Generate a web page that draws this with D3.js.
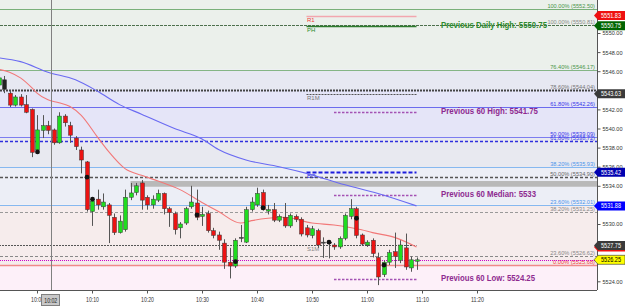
<!DOCTYPE html>
<html>
<head>
<meta charset="utf-8">
<script src="https://cdn.jsdelivr.net/npm/d3@7"></script>
<style>
body { margin: 0; background: #fff; font-family: "Liberation Sans", Arial, sans-serif; }
</style>
</head>
<body>
<div class="chart"></div>
<script>
// DATA ----------------------------------------------

const barTimes = ['09:53','09:54','09:55','09:56','09:57','09:58','09:59','10:00','10:01','10:02',
	'10:03','10:04','10:05','10:06','10:07','10:08','10:09','10:10','10:11','10:12',
	'10:13','10:14','10:15','10:16','10:17','10:18','10:19','10:20','10:21','10:22',
	'10:23','10:24','10:25','10:26','10:27','10:28','10:29','10:30','10:31','10:32',
	'10:33','10:34','10:35','10:36','10:37','10:38','10:39','10:40','10:41','10:42',
	'10:43','10:44','10:45','10:46','10:47','10:48','10:49','10:50','10:51','10:52',
	'10:53','10:54','10:55','10:56','10:57','10:58','10:59','11:00','11:01','11:02',
	'11:03','11:04','11:05','11:06','11:07','11:08','11:09'];
const opens = [5544.55,5545.1,5543.7,5542.45,5543.3,5542.5,5542.0,5537.75,5539.8,5540.3,
	5539.85,5538.5,5541.3,5540.3,5539.0,5537.75,5536.5,5531.3,5532.6,5531.8,
	5532.0,5530.7,5529.1,5529.4,5532.8,5533.3,5534.3,5532.8,5532.0,5532.5,
	5533.2,5531.6,5531.1,5529.6,5530.1,5531.8,5532.2,5530.8,5531.1,5529.3,
	5528.85,5528.0,5526.0,5525.6,5528.6,5528.1,5531.5,5532.0,5533.3,5531.35,
	5531.5,5530.4,5530.7,5529.8,5530.8,5530.5,5529.6,5528.8,5529.3,5528.1,
	5528.1,5527.8,5527.6,5528.5,5530.8,5531.6,5528.85,5527.8,5528.3,5526.5,
	5524.7,5526.0,5527.1,5526.2,5527.5,5525.4,5526.1];
const highs = [5545.6,5545.5,5544.0,5543.5,5543.6,5543.5,5542.1,5541.4,5541.4,5540.8,
	5540.0,5541.7,5541.5,5540.7,5539.2,5538.1,5536.6,5532.7,5533.6,5533.2,
	5532.2,5531.1,5530.9,5533.6,5534.3,5534.3,5534.6,5533.0,5533.0,5533.6,
	5533.3,5531.8,5531.3,5530.2,5531.8,5534.0,5533.6,5531.8,5531.4,5529.6,
	5529.2,5528.4,5527.5,5528.5,5529.9,5531.8,5532.8,5533.8,5533.6,5532.0,
	5532.2,5531.0,5532.2,5531.1,5531.0,5530.7,5529.9,5529.8,5529.5,5528.6,
	5528.2,5528.0,5528.7,5531.1,5532.6,5531.8,5529.0,5528.3,5528.5,5527.0,
	5526.2,5527.3,5529.1,5528.3,5529.0,5526.6,5526.5];
const lows = [5544.3,5543.7,5542.25,5542.3,5542.3,5541.6,5537.0,5537.4,5539.0,5539.4,
	5538.3,5538.4,5540.2,5538.5,5537.75,5535.3,5531.3,5529.8,5531.5,5531.5,
	5528.0,5528.85,5529.0,5529.2,5532.5,5533.0,5531.5,5531.5,5531.6,5532.3,
	5531.0,5529.7,5528.9,5528.5,5529.9,5531.6,5530.4,5529.8,5529.1,5528.5,
	5527.3,5525.3,5524.3,5525.4,5528.1,5528.0,5531.3,5531.8,5531.4,5531.0,
	5530.2,5530.2,5529.6,5529.6,5530.2,5528.7,5528.6,5528.5,5527.5,5526.45,
	5526.4,5527.3,5527.4,5528.3,5530.5,5528.5,5527.7,5527.6,5526.5,5523.6,
	5524.45,5525.7,5525.4,5525.9,5525.2,5525.0,5525.2];
const closes = [5545.3,5544.1,5542.45,5543.3,5542.45,5541.7,5537.5,5539.85,5540.3,5539.8,
	5538.5,5541.3,5540.6,5539.3,5538.1,5536.7,5531.5,5532.4,5532.0,5532.3,
	5530.9,5529.1,5530.3,5532.8,5533.25,5534.0,5532.5,5532.0,5532.6,5533.2,
	5531.6,5531.2,5529.4,5530.0,5531.6,5532.3,5530.7,5531.0,5529.3,5528.8,
	5528.3,5526.0,5525.6,5528.3,5528.6,5531.5,5532.3,5533.2,5531.5,5531.5,
	5530.4,5530.8,5529.8,5530.9,5530.5,5528.95,5528.85,5529.5,5527.8,5528.1,
	5528.1,5527.6,5528.5,5530.9,5531.6,5528.8,5527.9,5528.1,5526.9,5524.45,
	5526.0,5527.0,5526.6,5527.8,5525.5,5526.25,5526.25];
const darkBars = ['09:54'];

const dotTimes = ['10:00','10:09','10:10','10:29','10:36','10:41','10:53','10:58','11:03'];
const dotPrices = [5537.55,5534.9,5532.6,5530.95,5526.05,5531.7,5528.1,5530.6,5525.7];

const maFastTimes = ['09:53','09:55','09:57','09:59','10:00','10:02','10:04','10:06','10:08','10:11','10:13','10:16',
	'10:19','10:22','10:26','10:30','10:33','10:37','10:39','10:42','10:45','10:50','10:54','10:59','11:01','11:05','11:09'];
const maFastValues = [5546.2,5545.9,5545.3,5544.3,5543.7,5543.0,5542.7,5542.3,5541.4,5539.1,5537.6,5535.8,
	5535.1,5534.5,5533.6,5532.25,5531.3,5530.1,5530.35,5530.6,5530.7,5530.1,5529.9,5529.4,5529.1,5528.6,5527.6];
const maSlowTimes = ['09:53','09:57','10:02','10:07','10:11','10:15','10:19','10:25','10:30','10:33','10:38','10:44','10:49','10:56','11:02','11:09'];
const maSlowValues = [5547.4,5547.0,5545.9,5545.1,5543.9,5542.5,5541.5,5540.0,5538.9,5537.8,5536.7,5536.0,5535.3,5534.1,5533.2,5531.9];

// fibonacci levels (full width)
const fibPrices = [5552.50,5550.81,5546.17,5544.04,5542.26,5539.09,5538.72,5535.93,5534.90,5532.01,5531.25,5526.62,5525.68];
const fibNames = ['100.00%','100.00%','76.40%','78.60%','61.80%','50.00%','61.80%','38.20%','50.00%','23.60%','38.20%','23.60%','0.00%'];

// background zones
const zoneTops = [5560, 5546.17, 5544.04, 5539.09, 5535.93, 5532.01, 5525.68];
const zoneBottoms = [5546.17, 5544.04, 5539.09, 5535.93, 5532.01, 5525.68, 5510];

// pivot / short levels
const levelNames = ['R1','PH','R1M','S1M','BO'];
const levelPrices = [5551.83,5550.75,5543.63,5527.75,5535.42];
const levelStart = ['10:49','10:49','10:49','09:40','10:49'];
const levelEnd = ['11:09','11:09','11:09','11:09','11:09'];

const prevNames = ['Previous Daily High: 5550.75','Previous 60 High: 5541.75','Previous 60 Median: 5533','Previous 60 Low: 5524.25'];
const prevPrices = [5550.75,5541.75,5533,5524.25];

const grayZone = {from: '10:17', top: 5534.5, bottom: 5533.9};
const lastPrice = 5526.25;
const tagPrices = [5551.83,5550.75,5543.63,5535.42,5531.88,5527.6,5527.75,5526.25];
const tagShown = [true,true,true,true,true,false,true,true];

// axis labels hidden behind the price tags are left out
const priceTicks = [5524,5530,5534,5536,5538,5540,5542,5546,5548,5550];
const timeTicks = ['10:00','10:10','10:20','10:30','10:40','10:50','11:00','11:10','11:20'];
const cursorTime = '10:02:30';
const cursorLabel = '10:02';

// STYLES --------------------------------------------

const zoneColors = ['#ebf0eb','#e7e8f2','#e5e5f8','#e8e9f0','#eceef6','#f6ecec','#fdf0f9'];
const fibStyles = [
	{c: '#79b079', w: 1.2, d: null, t: '#4a954a'},
	{c: '#4d704d', w: 1.2, d: '3,1', t: '#8a8a8a'},
	{c: '#85b585', w: 1.2, d: null, t: '#4a954a'},
	{c: '#444', w: 2, d: '2,1', t: '#777'},
	{c: '#6c6cee', w: 1.2, d: null, t: '#3535e8'},
	{c: '#7c7cf0', w: 1.2, d: null, t: '#3535e8'},
	{c: '#3030dd', w: 1.5, d: '3,2', t: '#3535e8'},
	{c: '#86b8f0', w: 1.2, d: null, t: '#4a94ec'},
	{c: '#555', w: 1.5, d: '3,2', t: '#666'},
	{c: '#86b8f0', w: 1.2, d: null, t: '#4a94ec'},
	{c: '#999', w: 1.2, d: '3,2', t: '#888'},
	{c: '#888', w: 1.2, d: '3,2', t: '#888'},
	{c: '#f08a8a', w: 1.5, d: null, t: '#f04040'}
];
const levelStyles = [
	{c: '#f2a6ae', w: 1.5, d: null, t: '#f03a3a'},
	{c: '#2d7a2d', w: 1.5, d: null, t: '#2a8a2a'},
	{c: '#555', w: 1, d: '2,1', t: '#777'},
	{c: '#555', w: 1, d: '2,1', t: '#888'},
	{c: '#1c1cdd', w: 2, d: '4,2', t: '#1c1cdd'}
];
const prevColors = ['#2e8a2e','#8e2a90','#8e2a90','#8e2a90'];
const prevWidths = [106, 97, 95, 94];
const tagFills = ['#ee1010','#006400','#3a3a3a','#0000b0','#0000ff','#ee1010','#3a3a3a','#ffff00'];
const tagText = ['#fff','#fff','#fff','#fff','#fff','#fff','#fff','#000'];

// CHART INIT ----------------------------------------

const width = 625;
const height = 307;
const plot = {left: 0, right: 597, top: 0, bottom: 290};

const parseTime = d3.timeParse('%H:%M');
const parseSec = d3.timeParse('%H:%M:%S');

const svg = d3.select('.chart').append('svg')
	.attr('width', width)
	.attr('height', height)
	.style('display', 'block');

svg.append('defs').append('clipPath')
	.attr('id', 'plot-clip')
	.append('rect')
	.attr('x', plot.left).attr('y', plot.top)
	.attr('width', plot.right - plot.left)
	.attr('height', plot.bottom - plot.top);

const xScale = d3.scaleTime()
	.domain([parseTime('10:00'), parseTime('11:20')])
	.range([37, 477]);

const yScale = d3.scaleLinear()
	.domain([5550, 5524])
	.range([33, 281.3]);

const g = svg.append('g').attr('clip-path', 'url(#plot-clip)');

// zones
g.selectAll('.zone')
	.data(zoneTops)
	.enter().append('rect')
	.attr('x', plot.left)
	.attr('width', plot.right - plot.left)
	.attr('y', d => yScale(d))
	.attr('height', (d, i) => yScale(zoneBottoms[i]) - yScale(d))
	.attr('fill', (d, i) => zoneColors[i]);

// fib lines
g.selectAll('.fib')
	.data(fibPrices)
	.enter().append('line')
	.attr('x1', plot.left).attr('x2', plot.right)
	.attr('y1', d => Math.round(yScale(d)) + 0.5)
	.attr('y2', d => Math.round(yScale(d)) + 0.5)
	.attr('stroke', (d, i) => fibStyles[i].c)
	.attr('stroke-width', (d, i) => fibStyles[i].w)
	.attr('stroke-dasharray', (d, i) => fibStyles[i].d);

g.selectAll('.fib-label')
	.data(fibPrices)
	.enter().append('text')
	.attr('x', 595)
	.attr('y', d => yScale(d) - 1)
	.attr('text-anchor', 'end')
	.attr('font-size', '6px')
	.attr('fill', (d, i) => fibStyles[i].t)
	.text((d, i) => fibNames[i] + ' (' + d3.format('.2f')(d) + ')')
	.attr('textLength', function() { return this.textContent.length * 2.8; })
	.attr('lengthAdjust', 'spacingAndGlyphs');

// gray zone
g.append('rect')
	.attr('x', xScale(parseTime(grayZone.from)))
	.attr('width', plot.right - xScale(parseTime(grayZone.from)))
	.attr('y', yScale(grayZone.top))
	.attr('height', yScale(grayZone.bottom) - yScale(grayZone.top))
	.attr('fill', '#b9b9b9');

// short levels
g.selectAll('.level')
	.data(levelPrices)
	.enter().append('line')
	.attr('x1', (d, i) => xScale(parseTime(levelStart[i])))
	.attr('x2', (d, i) => xScale(parseTime(levelEnd[i])))
	.attr('y1', d => Math.round(yScale(d)) + 0.5)
	.attr('y2', d => Math.round(yScale(d)) + 0.5)
	.attr('stroke', (d, i) => levelStyles[i].c)
	.attr('stroke-width', (d, i) => levelStyles[i].w)
	.attr('stroke-dasharray', (d, i) => levelStyles[i].d);

g.selectAll('.level-label')
	.data(levelPrices)
	.enter().append('text')
	.attr('x', xScale(parseTime('10:49')) + 0.5)
	.attr('y', d => yScale(d) + 6)
	.attr('font-size', '6px')
	.attr('fill', (d, i) => levelStyles[i].t)
	.text((d, i) => levelNames[i]);

// previous 60 lines
g.selectAll('.prev')
	.data(prevPrices.slice(1))
	.enter().append('line')
	.attr('x1', xScale(parseTime('10:54')))
	.attr('x2', xScale(parseTime('11:09')))
	.attr('y1', d => Math.round(yScale(d)) + 0.5)
	.attr('y2', d => Math.round(yScale(d)) + 0.5)
	.attr('stroke', '#a452b4')
	.attr('stroke-width', 1.5)
	.attr('stroke-dasharray', '2.5,1.5');

g.selectAll('.prev-label')
	.data(prevPrices)
	.enter().append('text')
	.attr('x', 441)
	.attr('y', d => yScale(d) + 1.8)
	.attr('font-size', '8.5px')
	.attr('font-weight', 'bold')
	.attr('fill', (d, i) => prevColors[i])
	.attr('textLength', (d, i) => prevWidths[i])
	.attr('lengthAdjust', 'spacingAndGlyphs')
	.text((d, i) => prevNames[i]);

// last price dotted line
g.append('line')
	.attr('x1', plot.left).attr('x2', plot.right)
	.attr('y1', Math.round(yScale(lastPrice)) + 0.5)
	.attr('y2', Math.round(yScale(lastPrice)) + 0.5)
	.attr('stroke', '#cc00cc')
	.attr('stroke-width', 1.2)
	.attr('stroke-dasharray', '1,1');

// moving averages
const maLine = d3.line()
	.x(d => xScale(parseTime(d[0])))
	.y(d => yScale(d[1]))
	.curve(d3.curveMonotoneX);

g.append('path')
	.datum(maSlowTimes.map((t, i) => [t, maSlowValues[i]]))
	.attr('d', maLine)
	.attr('fill', 'none')
	.attr('stroke', '#6a6af2')
	.attr('stroke-width', 1.1);

g.append('path')
	.datum(maFastTimes.map((t, i) => [t, maFastValues[i]]))
	.attr('d', maLine)
	.attr('fill', 'none')
	.attr('stroke', '#f27878')
	.attr('stroke-width', 1.1);

// cursor
g.append('line')
	.attr('x1', Math.round(xScale(parseSec(cursorTime))) + 0.5)
	.attr('x2', Math.round(xScale(parseSec(cursorTime))) + 0.5)
	.attr('y1', plot.top).attr('y2', plot.bottom)
	.attr('stroke', '#808080')
	.attr('stroke-width', 1);

// candles
const bars = barTimes.map((t, i) => ({
	time: parseTime(t), o: opens[i], h: highs[i], l: lows[i], c: closes[i], dark: darkBars.includes(t)
}));

const candle = g.selectAll('.candle')
	.data(bars)
	.enter().append('g');

candle.append('line')
	.attr('x1', d => Math.round(xScale(d.time)) + 0.5)
	.attr('x2', d => Math.round(xScale(d.time)) + 0.5)
	.attr('y1', d => yScale(d.h))
	.attr('y2', d => yScale(d.l))
	.attr('stroke', '#555')
	.attr('stroke-width', 1);

candle.append('rect')
	.attr('x', d => Math.round(xScale(d.time)) - 1.5)
	.attr('width', 4)
	.attr('y', d => yScale(Math.max(d.o, d.c)))
	.attr('height', d => Math.max(1, Math.abs(yScale(d.o) - yScale(d.c))))
	.attr('fill', d => d.dark ? '#222' : (d.c > d.o ? '#1fdc1f' : (d.c < d.o ? '#ec1313' : '#444')))
	.attr('stroke', '#3a3a3a')
	.attr('stroke-width', 0.5);

// dots
g.selectAll('.dot')
	.data(dotTimes)
	.enter().append('circle')
	.attr('cx', d => xScale(parseTime(d)) + 0.5)
	.attr('cy', (d, i) => yScale(dotPrices[i]))
	.attr('r', 2.4)
	.attr('fill', '#111');

// AXES ----------------------------------------------

const yAxis = d3.axisRight(yScale)
	.tickValues(priceTicks)
	.tickSize(3)
	.tickFormat(d3.format('.2f'));

const yAxisG = svg.append('g')
	.attr('transform', `translate(${plot.right + 0.5},0)`)
	.call(yAxis);
yAxisG.select('.domain').attr('stroke', '#555').attr('d', `M0,${plot.top}V${plot.bottom}`);
yAxisG.selectAll('line').attr('stroke', '#555');
yAxisG.selectAll('text')
	.attr('x', 5)
	.attr('font-size', '6px')
	.attr('font-family', '"Liberation Sans", Arial, sans-serif')
	.attr('fill', '#333')
	.attr('textLength', 20)
	.attr('lengthAdjust', 'spacingAndGlyphs');

const xAxis = d3.axisBottom(xScale)
	.tickValues(timeTicks.map(parseTime))
	.tickSize(3)
	.tickFormat(d3.timeFormat('%H:%M'));

const xAxisG = svg.append('g')
	.attr('transform', `translate(0,${plot.bottom + 0.5})`)
	.call(xAxis);
xAxisG.select('.domain').attr('stroke', '#555').attr('d', `M${plot.left},0H${plot.right}`);
xAxisG.selectAll('line').attr('stroke', '#555');
xAxisG.selectAll('text')
	.attr('y', 7)
	.attr('font-size', '6.5px')
	.attr('font-family', '"Liberation Sans", Arial, sans-serif')
	.attr('fill', '#333')
	.attr('textLength', 13)
	.attr('lengthAdjust', 'spacingAndGlyphs');

// cursor label
const cx = xScale(parseSec(cursorTime));
svg.append('rect')
	.attr('x', Math.round(cx) - 9.5).attr('y', 294.5)
	.attr('width', 18).attr('height', 11)
	.attr('fill', '#c8c8c8')
	.attr('stroke', '#808080');
svg.append('text')
	.attr('x', cx).attr('y', 302.5)
	.attr('text-anchor', 'middle')
	.attr('font-size', '6.5px')
	.attr('fill', '#222')
	.attr('textLength', 13)
	.attr('lengthAdjust', 'spacingAndGlyphs')
	.text(cursorLabel);

// price tags
const tags = svg.selectAll('.tag')
	.data(tagPrices)
	.enter().append('g')
	.attr('transform', d => `translate(0,${yScale(d)})`);

tags.append('path')
	.attr('d', 'M594,0L598,-4.5H625V4.5H598Z')
	.attr('fill', (d, i) => tagFills[i])
	.attr('stroke', (d, i) => i === 7 ? '#333' : 'none')
	.attr('stroke-width', 0.6);

tags.filter((d, i) => tagShown[i])
	.append('text')
	.attr('x', 611)
	.attr('y', 2.3)
	.attr('text-anchor', 'middle')
	.attr('font-size', '6.5px')
	.attr('fill', d => tagText[tagPrices.indexOf(d)])
	.attr('textLength', 20)
	.attr('lengthAdjust', 'spacingAndGlyphs')
	.text(d => d3.format('.2f')(d));
</script>
</body>
</html>
